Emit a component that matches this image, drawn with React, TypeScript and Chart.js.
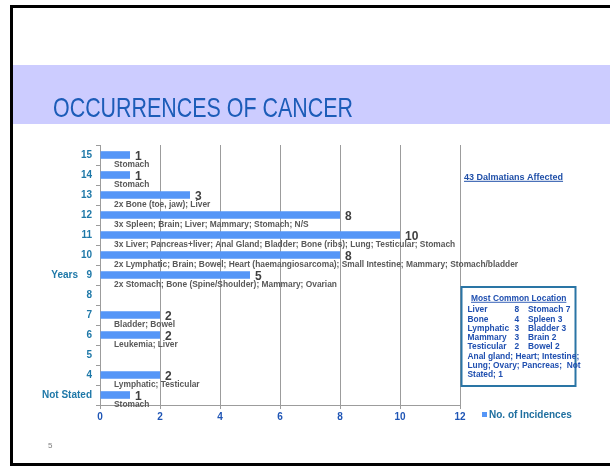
import React, { useEffect, useRef } from 'react';
import { Chart, registerables } from 'chart.js';

Chart.register(...registerables);

// ---------- data ----------
const categories = ['15', '14', '13', '12', '11', '10', '9', '8', '7', '6', '5', '4', 'Not Stated'];
const incidences = [1, 1, 3, 8, 10, 8, 5, 0, 2, 2, 0, 2, 1];
const locations = [
  'Stomach',
  'Stomach',
  '2x Bone (toe, jaw); Liver',
  '3x Spleen; Brain; Liver; Mammary; Stomach; N/S',
  '3x Liver; Pancreas+liver; Anal Gland; Bladder; Bone (ribs); Lung; Testicular; Stomach',
  '2x Lymphatic; Brain; Bowel; Heart (haemangiosarcoma); Small Intestine; Mammary; Stomach/bladder',
  '2x Stomach; Bone (Spine/Shoulder); Mammary; Ovarian',
  '',
  'Bladder; Bowel',
  'Leukemia; Liver',
  '',
  'Lymphatic; Testicular',
  'Stomach',
];
const xMin = 0;
const xMax = 12;
const xStep = 2;
const seriesName = 'No. of Incidences';
const yTitle = 'Years';
const slideTitle = 'OCCURRENCES OF CANCER';
const affectedNote = '43 Dalmatians Affected';
const boxTitle = 'Most Common Location';
const boxRows = [
  ['Liver', '8', 'Stomach 7'],
  ['Bone', '4', 'Spleen 3'],
  ['Lymphatic', '3', 'Bladder 3'],
  ['Mammary', '3', 'Brain 2'],
  ['Testicular', '2', 'Bowel 2'],
];
const boxFooter = ['Anal gland; Heart; Intestine;', 'Lung; Ovary; Pancreas;  Not', 'Stated; 1'];
const pageNumber = '5';

// ---------- styles ----------
const FONT = "'Liberation Sans', Arial, Helvetica, sans-serif";
const BAR = '#5596F7';
const GRID = '#9C9C9C';
const YTICK = '#1E78A8';
const XTICK = '#1F55B5';
const BOXTEXT = '#1F4FB0';

const slidePlugin = {
  id: 'slide',
  beforeDraw(chart: any) {
    const ctx = chart.ctx as CanvasRenderingContext2D;
    ctx.save();
    ctx.fillStyle = '#ffffff';
    ctx.fillRect(0, 0, 610, 466);
    ctx.fillStyle = '#CCCCFF';
    ctx.fillRect(13, 65, 597, 59);
    ctx.fillStyle = '#000000';
    ctx.fillRect(10, 5, 600, 3);
    ctx.fillRect(10, 5, 3, 461);
    ctx.fillRect(10, 463, 600, 3);
    // title
    ctx.save();
    ctx.translate(53, 117.3);
    ctx.scale(0.765, 1);
    ctx.font = `28px ${FONT}`;
    ctx.fillStyle = '#1C5CB8';
    ctx.textBaseline = 'alphabetic';
    ctx.textAlign = 'left';
    ctx.fillText(slideTitle, 0, 0);
    ctx.restore();
    // page number
    ctx.font = `8px ${FONT}`;
    ctx.fillStyle = '#7F7F7F';
    ctx.fillText(pageNumber, 48, 448);
    ctx.restore();
  },
  afterDatasetsDraw(chart: any) {
    const ctx = chart.ctx as CanvasRenderingContext2D;
    const meta = chart.getDatasetMeta(0);
    const area = chart.chartArea;
    ctx.save();
    ctx.textAlign = 'left';
    ctx.textBaseline = 'alphabetic';
    meta.data.forEach((bar: any, i: number) => {
      const v = incidences[i];
      if (v > 0) {
        ctx.font = `bold 12px ${FONT}`;
        ctx.fillStyle = '#404040';
        ctx.fillText(String(v), bar.x + 5, bar.y + 4.8);
      }
      if (locations[i]) {
        ctx.font = `bold 8.4px ${FONT}`;
        ctx.fillStyle = '#595959';
        ctx.fillText(locations[i], area.left + 14, bar.y + 12);
      }
    });
    ctx.restore();
  },
  afterDraw(chart: any) {
    const ctx = chart.ctx as CanvasRenderingContext2D;
    const area = chart.chartArea;
    ctx.save();
    // y axis title
    ctx.font = `bold 10px ${FONT}`;
    ctx.fillStyle = YTICK;
    ctx.textAlign = 'right';
    ctx.textBaseline = 'middle';
    ctx.fillText(yTitle, 78, (area.top + area.bottom) / 2 + 0.5);
    // legend
    ctx.fillStyle = BAR;
    ctx.fillRect(482, 412, 5, 5);
    ctx.textAlign = 'left';
    ctx.textBaseline = 'alphabetic';
    ctx.fillStyle = '#1F6F9F';
    ctx.font = `bold 10px ${FONT}`;
    ctx.fillText(seriesName, 489, 418.3);
    // 43 Dalmatians Affected
    ctx.font = `bold 9px ${FONT}`;
    ctx.fillStyle = '#1F4FA8';
    ctx.fillText(affectedNote, 464, 180);
    const w = ctx.measureText(affectedNote).width;
    ctx.fillRect(464, 180.8, w, 1);
    // box
    ctx.strokeStyle = '#2A75A5';
    ctx.lineWidth = 2;
    ctx.strokeRect(461.5, 287, 114, 99);
    ctx.fillStyle = BOXTEXT;
    ctx.font = `bold 8.4px ${FONT}`;
    ctx.textAlign = 'center';
    ctx.fillText(boxTitle, 518.7, 301);
    const bw = ctx.measureText(boxTitle).width;
    ctx.fillRect(518.7 - bw / 2, 301.8, bw, 0.9);
    ctx.textAlign = 'left';
    let y = 312.3;
    const lh = 9.25;
    boxRows.forEach((r) => {
      ctx.fillText(r[0], 467.5, y);
      ctx.fillText(r[1], 514.5, y);
      ctx.fillText(r[2], 528, y);
      y += lh;
    });
    boxFooter.forEach((t) => {
      ctx.fillText(t, 467.5, y);
      y += lh;
    });
    ctx.restore();
  },
};

export default function App() {
  const ref = useRef<HTMLCanvasElement | null>(null);
  useEffect(() => {
    if (!ref.current) return;
    const chart = new Chart(ref.current, {
      type: 'bar',
      data: {
        labels: categories,
        datasets: [
          {
            label: seriesName,
            data: incidences,
            backgroundColor: BAR,
            borderWidth: 0,
            barPercentage: 0.38,
            categoryPercentage: 1,
          },
        ],
      },
      options: {
        indexAxis: 'y',
        responsive: false,
        animation: false,
        devicePixelRatio: 1,
        layout: { padding: { left: 0, right: 150, top: 145, bottom: 0 } },
        plugins: { legend: { display: false }, tooltip: { enabled: false } },
        scales: {
          x: {
            min: xMin,
            max: xMax,
            ticks: {
              stepSize: xStep,
              color: XTICK,
              padding: 2,
              font: { family: FONT, size: 10, weight: 'bold' },
            },
            grid: { color: GRID, tickLength: 4, lineWidth: 1 },
            border: { color: GRID },
            afterFit(s: any) {
              s.height = 61;
            },
          },
          y: {
            ticks: {
              color: YTICK,
              padding: 4,
              autoSkip: false,
              font: { family: FONT, size: 10, weight: 'bold' },
            },
            grid: { drawOnChartArea: false, tickLength: 4, color: GRID, offset: true },
            border: { color: GRID },
            afterFit(s: any) {
              s.width = 100;
            },
          },
        },
      } as any,
      plugins: [slidePlugin],
    });
    return () => chart.destroy();
  }, []);
  return (
    <div style={{ position: 'absolute', left: 0, top: 0, width: 610, height: 466 }}>
      <canvas ref={ref} width={610} height={466} style={{ display: 'block' }} />
    </div>
  );
}
